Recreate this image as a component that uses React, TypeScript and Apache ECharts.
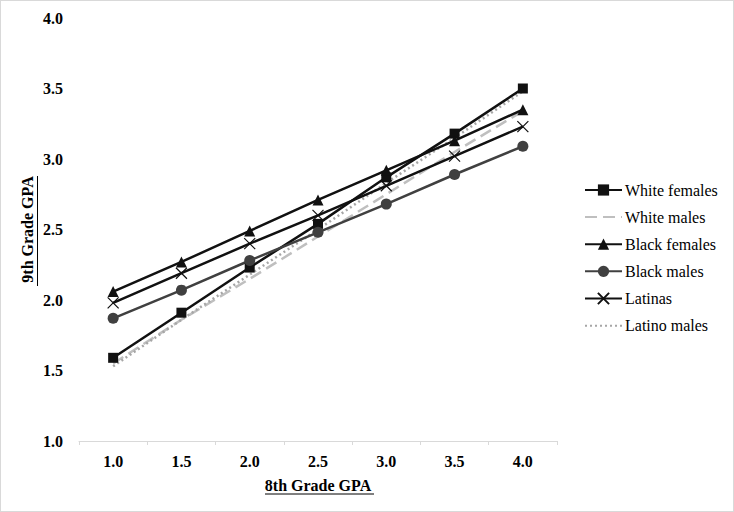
import React, { useEffect, useRef } from "react";
import * as echarts from "echarts";

const categories = ["1.0", "1.5", "2.0", "2.5", "3.0", "3.5", "4.0"];
const whiteFemales = [1.59, 1.91, 2.23, 2.54, 2.87, 3.18, 3.5];
const whiteMales = [1.55, 1.86, 2.15, 2.45, 2.75, 3.05, 3.34];
const blackFemales = [2.06, 2.27, 2.49, 2.71, 2.92, 3.13, 3.35];
const blackMales = [1.87, 2.07, 2.28, 2.48, 2.68, 2.89, 3.09];
const latinas = [1.98, 2.19, 2.4, 2.6, 2.81, 3.02, 3.23];
const latinoMales = [1.53, 1.86, 2.18, 2.5, 2.83, 3.15, 3.48];

const FONT = "Liberation Serif";

export default function App() {
  const ref = useRef<HTMLDivElement>(null);
  useEffect(() => {
    document.body.style.margin = "0";
    const chart = echarts.init(ref.current!, null, { renderer: "svg" });
    const solid = (name: string, data: number[], color: string, symbol: string, size: number) => ({
      name,
      type: "line",
      data,
      symbol,
      symbolSize: size,
      showSymbol: true,
      lineStyle: { color, width: 2.5, type: "solid" },
      itemStyle: { color, borderColor: color, borderWidth: 0 },
      z: 3,
    });
    chart.setOption({
      animation: false,
      textStyle: { fontFamily: FONT },
      grid: { left: 78, right: 176, top: 17, bottom: 70 },
      xAxis: {
        type: "category",
        data: categories,
        boundaryGap: true,
        axisLine: { lineStyle: { color: "#d9d9d9", width: 1 } },
        axisTick: { show: true, length: 4, lineStyle: { color: "#d9d9d9" } },
        axisLabel: { color: "#000", fontWeight: "bold", fontSize: 16, fontFamily: FONT, margin: 12 },
        name: "8th Grade GPA",
        nameLocation: "middle",
        nameGap: 36,
        nameMoveOverlap: false,
        nameTextStyle: { color: "#000", fontWeight: "bold", fontSize: 16, fontFamily: FONT },
        splitLine: { show: false },
      },
      yAxis: {
        type: "value",
        min: 1,
        max: 4,
        interval: 0.5,
        axisLine: { show: false },
        axisTick: { show: false },
        splitLine: { show: false },
        axisLabel: {
          color: "#000",
          fontWeight: "bold",
          fontSize: 16,
          fontFamily: FONT,
          margin: 16,
          formatter: (v: number) => v.toFixed(1),
        },
        name: "9th Grade GPA",
        nameLocation: "middle",
        nameGap: 44,
        nameMoveOverlap: false,
        nameTextStyle: { color: "#000", fontWeight: "bold", fontSize: 16, fontFamily: FONT },
      },
      legend: {
        orient: "vertical",
        left: 583,
        top: 181,
        padding: 0,
        itemWidth: 37,
        itemHeight: 14,
        itemGap: 11.1,
        textStyle: { color: "#000", fontSize: 16, fontFamily: FONT, padding: [0, 0, 0, -2] },
        data: [
          "White females",
          { name: "White males", itemStyle: { opacity: 0 } },
          "Black females",
          "Black males",
          "Latinas",
          { name: "Latino males", itemStyle: { opacity: 0 } },
        ],
      },
      graphic: [
        { type: "line", shape: { x1: 264, y1: 493, x2: 373, y2: 493 }, style: { stroke: "#000", lineWidth: 1 } },
        { type: "line", shape: { x1: 36.5, y1: 175, x2: 36.5, y2: 285 }, style: { stroke: "#000", lineWidth: 1 } },
      ],
      series: [
        solid("White females", whiteFemales, "#111", "rect", 10),
        {
          name: "White males",
          type: "line",
          data: whiteMales,
          symbol: "none",
          lineStyle: { color: "#bfbfbf", width: 2.5, type: [12, 6] },
          itemStyle: { color: "#bfbfbf" },
          z: 2,
        },
        solid("Black females", blackFemales, "#111", "triangle", 11),
        solid("Black males", blackMales, "#404040", "circle", 11),
        {
          name: "Latinas",
          type: "line",
          data: latinas,
          symbol: "path://M0,0L10,10M10,0L0,10",
          symbolSize: 11,
          lineStyle: { color: "#111", width: 2.5 },
          itemStyle: { color: "none", borderColor: "#111", borderWidth: 1.2 },
          z: 3,
        },
        {
          name: "Latino males",
          type: "line",
          data: latinoMales,
          symbol: "none",
          lineStyle: { color: "#a6a6a6", width: 2.5, type: [2, 3] },
          itemStyle: { color: "#a6a6a6" },
          z: 2,
        },
      ],
    });
    return () => chart.dispose();
  }, []);
  return (
    <div
      ref={ref}
      style={{
        position: "fixed",
        left: 0,
        top: 0,
        width: 734,
        height: 512,
        border: "1px solid #d9d9d9",
        boxSizing: "border-box",
        background: "#fff",
      }}
    />
  );
}
